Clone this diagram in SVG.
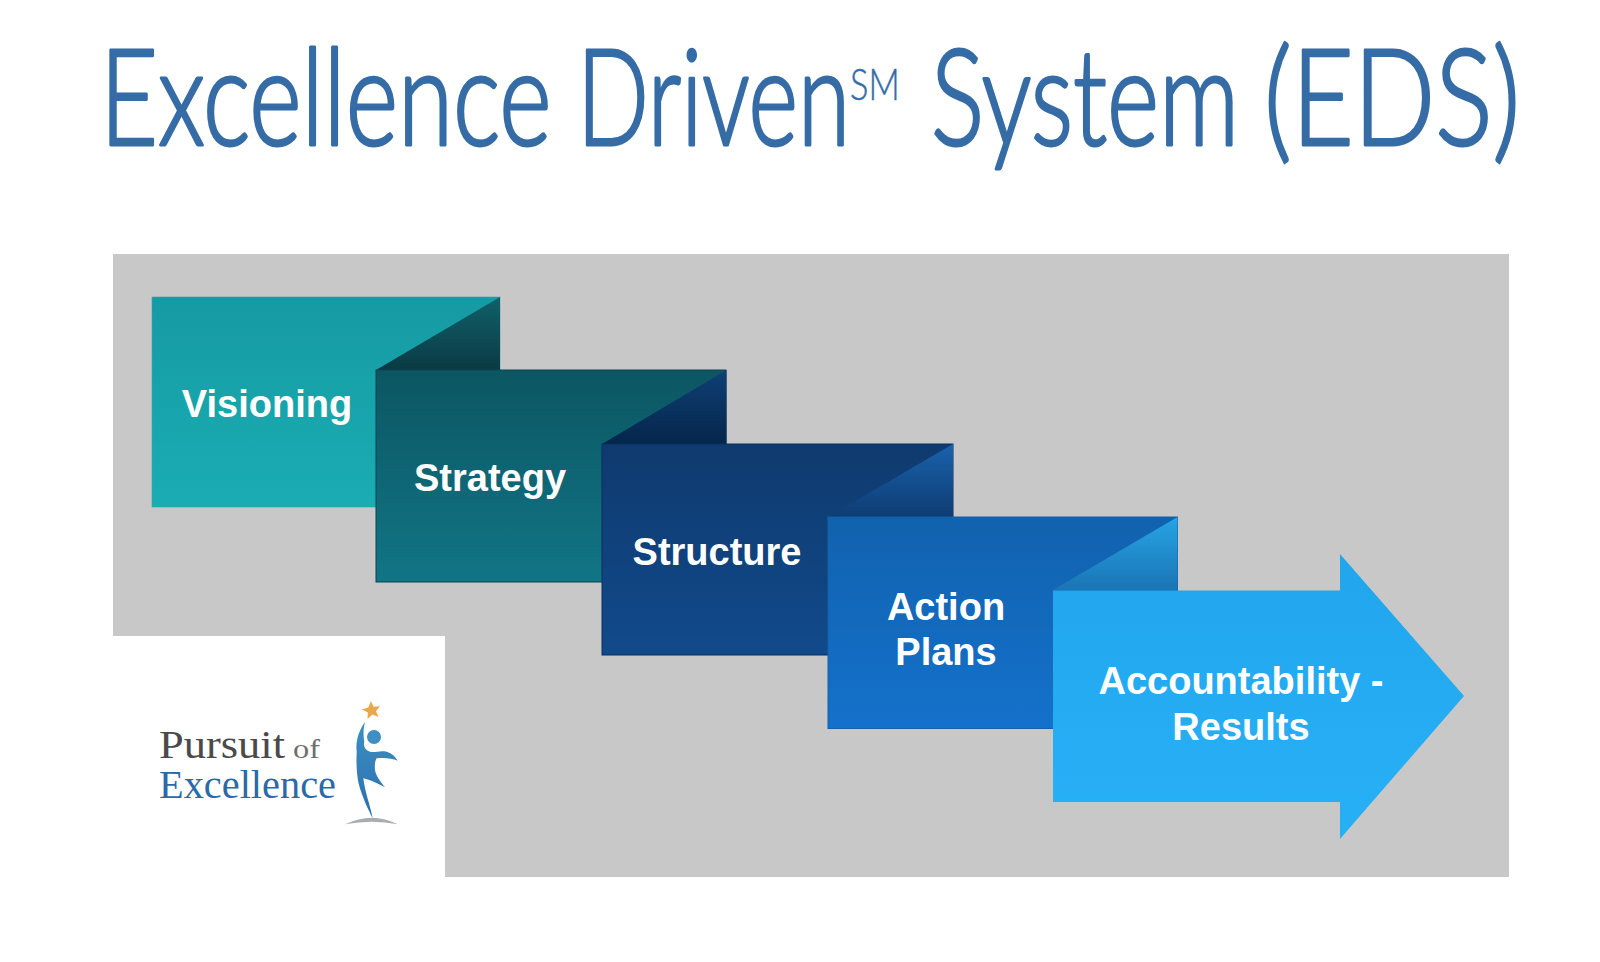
<svg xmlns="http://www.w3.org/2000/svg" width="1600" height="962" viewBox="0 0 1600 962">
<style>
.title{font-family:"Lato","Liberation Sans",sans-serif;font-weight:300;font-size:135px;fill:#366ca6;stroke:#366ca6;stroke-width:3px;stroke-linejoin:round}
.lbl{font-family:"Liberation Sans",Arial,sans-serif;font-weight:700;font-size:38px;fill:#fff;text-anchor:middle}
.logo{font-family:"Liberation Serif","Times New Roman",serif}
</style>
<defs>
<linearGradient id="g1" x1="0" y1="0" x2="0" y2="1"><stop offset="0" stop-color="#169aa3"/><stop offset="1" stop-color="#1aadb3"/></linearGradient>
<linearGradient id="f1" x1="0" y1="0" x2="0" y2="1"><stop offset="0" stop-color="#10616a"/><stop offset="1" stop-color="#0a3a44"/></linearGradient>
<linearGradient id="g2" x1="0" y1="0" x2="0" y2="1"><stop offset="0" stop-color="#0c5663"/><stop offset="1" stop-color="#117585"/></linearGradient>
<linearGradient id="f2" x1="0" y1="0" x2="0" y2="1"><stop offset="0" stop-color="#0f3f75"/><stop offset="1" stop-color="#05264b"/></linearGradient>
<linearGradient id="g3" x1="0" y1="0" x2="0" y2="1"><stop offset="0" stop-color="#0f3a6e"/><stop offset="1" stop-color="#114a8b"/></linearGradient>
<linearGradient id="f3" x1="0" y1="0" x2="0" y2="1"><stop offset="0" stop-color="#1a62ad"/><stop offset="1" stop-color="#0e3c72"/></linearGradient>
<linearGradient id="g4" x1="0" y1="0" x2="0" y2="1"><stop offset="0" stop-color="#1162ae"/><stop offset="1" stop-color="#1471cb"/></linearGradient>
<linearGradient id="f4" x1="0" y1="0" x2="0" y2="1"><stop offset="0" stop-color="#27a4e4"/><stop offset="1" stop-color="#1a75b5"/></linearGradient>
<linearGradient id="g5" x1="0" y1="0" x2="0" y2="1"><stop offset="0" stop-color="#21a6ee"/><stop offset="1" stop-color="#28b0f5"/></linearGradient>
<linearGradient id="body" x1="0" y1="0" x2="0" y2="1"><stop offset="0" stop-color="#3d8fc4"/><stop offset="1" stop-color="#2a6fae"/></linearGradient>
</defs>
<rect width="1600" height="962" fill="#fff"/>
<g id="title">
<text class="title" transform="translate(100 145) scale(0.7 1)" textLength="645" lengthAdjust="spacingAndGlyphs">Excellence</text>
<text class="title" transform="translate(577 145) scale(0.7 1)" textLength="390" lengthAdjust="spacingAndGlyphs">Driven</text>
<text class="title" transform="translate(850 100) scale(0.8 1)" style="font-size:44px;stroke-width:0.500px" textLength="62" lengthAdjust="spacingAndGlyphs">SM</text>
<text class="title" transform="translate(931 145) scale(0.7 1)" textLength="440" lengthAdjust="spacingAndGlyphs">System</text>
<text class="title" transform="translate(1264 145) scale(0.7 1)" textLength="366" lengthAdjust="spacingAndGlyphs">(EDS)</text>
</g>
<path id="panel" d="M113 254H1509V877H445V636H113Z" fill="#c8c8c8"/>
<g id="visioning">
<rect x="152" y="297" width="348" height="210" fill="url(#g1)" stroke="#3aa3a8" stroke-width="0.6"/>
<path d="M500 297L376 370H500Z" fill="url(#f1)"/>
<text class="lbl" x="267" y="417">Visioning</text>
</g>
<g id="strategy">
<rect x="376" y="370" width="350" height="212" fill="url(#g2)" stroke="#0a4452" stroke-width="1"/>
<path d="M726.500 370L602 444H726.500Z" fill="url(#f2)"/>
<text class="lbl" x="490" y="491">Strategy</text>
</g>
<g id="structure">
<rect x="602" y="444" width="351" height="211" fill="url(#g3)" stroke="#0a2f5c" stroke-width="1"/>
<path d="M953 444L828 517H953Z" fill="url(#f3)"/>
<text class="lbl" x="717" y="565">Structure</text>
</g>
<g id="action-plans">
<rect x="828" y="517" width="349.500" height="211.500" fill="url(#g4)" stroke="#1560a8" stroke-width="1"/>
<path d="M1177.500 517L1053 590H1177.500Z" fill="url(#f4)"/>
<text class="lbl" x="946" y="620">Action</text>
<text class="lbl" x="946" y="665">Plans</text>
</g>
<g id="accountability">
<path d="M1053 590.500H1340V554L1464 696L1340 839V802H1053Z" fill="url(#g5)"/>
<text class="lbl" x="1241" y="694">Accountability -</text>
<text class="lbl" x="1241" y="740">Results</text>
</g>
<g id="logo">
<text class="logo" x="159" y="758" font-size="41" fill="#4a4a4a" textLength="126" lengthAdjust="spacingAndGlyphs">Pursuit</text>
<text class="logo" x="293" y="758" font-size="27" fill="#6e6e6e" textLength="27" lengthAdjust="spacingAndGlyphs">of</text>
<text class="logo" x="159" y="798" font-size="41" fill="#2b6aa8" textLength="177" lengthAdjust="spacingAndGlyphs">Excellence</text>
<path d="M371 701L373.600 706.800L380 706.200L376 711.200L378.500 717L372.500 714.500L367.500 719L367.800 712.500L362 709.500L368.300 707.500Z" fill="#e8a94c"/>
<circle cx="374" cy="737" r="7" fill="#3d8fc4"/>
<path d="M365 721.700C358 732 355.500 742 356.700 752C356 765 357 775 358.500 783C362 797 368 809 372.700 818.300C370 805 365 792 363.300 778.300C371 780 379 784 385 787.300C380 781 376 776 375 770C374.500 765 375 761 376.700 758.300C384 757.500 392 758 397.700 760.700C394 755 390 752.500 386.700 751.700C380 750 375 753 370 751.700C365 750 363 746 364.300 741.700C363 735 363.500 728 365 721.700Z" fill="url(#body)"/>
<path d="M345 824.300Q372 811 398 824.300Q372 819 345 824.300Z" fill="#a9adb0"/>
</g>
</svg>
